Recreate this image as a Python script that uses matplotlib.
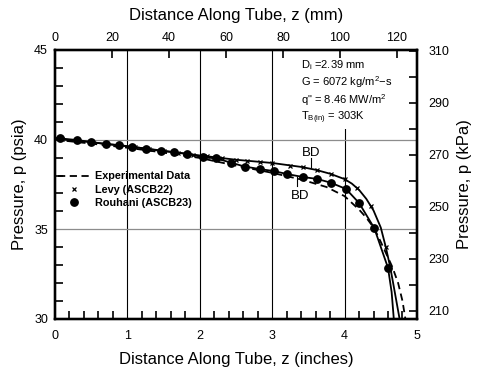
import numpy as np
import matplotlib
matplotlib.use("Agg")
import matplotlib.pyplot as plt
from matplotlib.ticker import MultipleLocator
from matplotlib.lines import Line2D

plt.rcParams['font.family'] = ['Liberation Sans', 'DejaVu Sans']
plt.rcParams['mathtext.fontset'] = 'custom'
plt.rcParams['mathtext.rm'] = 'Liberation Sans'
plt.rcParams['mathtext.it'] = 'Liberation Sans'

PSI_TO_KPA = 6.894757
IN_TO_MM = 25.4

# experimental pressure profile (inches, psia)
exp_z = [0.0, 0.5, 1.0, 1.5, 2.0, 2.5, 3.0, 3.4, 3.75, 4.0, 4.2, 4.3, 4.41,
         4.5, 4.58, 4.66, 4.74, 4.8, 4.84]
exp_p = [40.0, 39.78, 39.55, 39.28, 38.98, 38.55, 38.15, 37.78, 37.36, 36.85,
         36.1, 35.65, 35.05, 34.3, 33.6, 32.9, 32.0, 31.0, 30.0]

# Levy model (ASCB22)
levy_z = [0.0, 0.5, 1.0, 1.5, 2.0, 2.5, 3.0, 3.4, 3.6, 3.8, 4.0, 4.1, 4.2,
          4.3, 4.4, 4.5, 4.57, 4.63, 4.68, 4.72, 4.76]
levy_p = [40.05, 39.86, 39.63, 39.38, 39.12, 38.88, 38.7, 38.48, 38.32, 38.1,
          37.8, 37.55, 37.2, 36.7, 36.05, 35.1, 34.0, 32.9, 31.8, 30.9, 30.0]
levy_mz = [0.1, 0.3, 0.5, 0.7, 0.9, 1.1, 1.3, 1.5, 1.7, 1.9, 2.1, 2.3, 2.5,
           2.65, 2.83, 3.0, 3.24, 3.43, 3.62, 3.81, 4.0, 4.17, 4.37, 4.57]
levy_mp = [40.03, 39.95, 39.86, 39.77, 39.68, 39.58, 39.49, 39.38, 39.28,
           39.17, 39.07, 38.97, 38.88, 38.82, 38.75, 38.7, 38.55, 38.47, 38.3,
           38.1, 37.8, 37.3, 36.3, 34.0]

# Rouhani model (ASCB23)
rou_z = [0.0, 0.07, 0.3, 0.5, 0.7, 0.88, 1.07, 1.26, 1.46, 1.64, 1.83, 2.04,
         2.23, 2.43, 2.62, 2.83, 3.02, 3.21, 3.42, 3.62, 3.81, 4.02, 4.2,
         4.41, 4.6, 4.65, 4.68]
rou_p = [40.1, 40.07, 39.98, 39.87, 39.75, 39.7, 39.6, 39.5, 39.37, 39.3,
         39.2, 39.03, 38.95, 38.72, 38.5, 38.36, 38.25, 38.08, 37.92, 37.81,
         37.6, 37.25, 36.47, 35.07, 32.85, 31.5, 30.0]
rou_mz = rou_z[1:-2]
rou_mp = rou_p[1:-2]

fig = plt.figure(figsize=(4.79, 3.72), dpi=100)
ax = fig.add_axes([0.1148, 0.1425, 0.7557, 0.7231])

ax.set_xlim(0, 5)
ax.set_ylim(30, 45)

for z in [1, 2, 3, 4]:
    ax.axvline(z, color='black', lw=0.8, zorder=1)
for p in [35, 40]:
    ax.axhline(p, color='0.55', lw=0.9, zorder=1)

ax.plot(exp_z, exp_p, color='black', lw=1.3, ls=(0, (4, 2.5)), zorder=3)
ax.plot(levy_z, levy_p, color='black', lw=1.3, zorder=3)
ax.plot(levy_mz, levy_mp, ls='none', marker='x', ms=3, mew=0.9,
        color='black', zorder=4)
ax.plot(rou_z, rou_p, color='black', lw=1.3, zorder=3)
ax.plot(rou_mz, rou_mp, ls='none', marker='o', ms=5.3, color='black', zorder=4)

# burnout (BD) markers
ax.plot([3.53, 3.53], [38.98, 38.47], color='black', lw=0.8)
ax.text(3.54, 39.28, 'BD', ha='center', va='center', fontsize=9.5)
ax.plot([3.34, 3.34], [37.92, 37.4], color='black', lw=0.8)
ax.text(3.38, 36.85, 'BD', ha='center', va='center', fontsize=9.5)

# test conditions
ax.fill_between([3.3, 4.98], 40.6, 44.95, color='white', zorder=2, lw=0)
cond = [r'D$_{\rm i}$ =2.39 mm', r'G = 6072 kg/m$^2$$-$s',
        r'q" = 8.46 MW/m$^2$', r'T$_{\rm B(in)}$ = 303K']
for i, s in enumerate(cond):
    ax.text(3.40, 44.18 - 0.99 * i, s, fontsize=8, va='center', zorder=5)

handles = [Line2D([], [], color='black', lw=1.3, ls=(0, (4, 2.5))),
           Line2D([], [], ls='none', marker='x', ms=3, mew=0.9, color='black'),
           Line2D([], [], ls='none', marker='o', ms=5.3, color='black')]
labels = ['Experimental Data', 'Levy (ASCB22)', 'Rouhani (ASCB23)']
leg = ax.legend(handles, labels, loc='upper left', bbox_to_anchor=(-0.005, 0.565),
                frameon=False, fontsize=7.8, handlelength=3.0, handletextpad=0.5,
                labelspacing=0.3, borderaxespad=0)
for t in leg.get_texts():
    t.set_fontweight('bold')

ax.xaxis.set_major_locator(MultipleLocator(1))
ax.xaxis.set_minor_locator(MultipleLocator(0.2))
ax.yaxis.set_major_locator(MultipleLocator(5))
ax.yaxis.set_minor_locator(MultipleLocator(1))
ax.tick_params(which='both', direction='in', labelsize=9, width=1.2)
ax.tick_params(which='major', length=0)
ax.tick_params(which='minor', length=6)
ax.tick_params(axis='x', top=False, pad=8)
ax.tick_params(axis='y', right=False, pad=5)
for s in ax.spines.values():
    s.set_linewidth(1.6)

ax.set_xlabel('Distance Along Tube, z (inches)', fontsize=12, labelpad=7)
ax.set_ylabel('Pressure, p (psia)', fontsize=12, labelpad=5)

# metric scales on the opposite sides
axr = ax.twinx()
axr.set_ylim(30 * PSI_TO_KPA, 45 * PSI_TO_KPA)
axr.set_yticks(np.arange(210, 311, 20))
axr.yaxis.set_minor_locator(MultipleLocator(10))
axr.tick_params(which='both', direction='in', labelsize=9, width=1.2, pad=8)
axr.tick_params(which='major', length=6)
axr.tick_params(which='minor', length=6)
axr.set_ylabel('Pressure, p (kPa)', fontsize=12, labelpad=6)

axt = ax.twiny()
axt.set_xlim(0, 5 * IN_TO_MM)
axt.set_xticks(np.arange(0, 121, 20))
axt.tick_params(direction='in', labelsize=9, width=1.2, length=6, pad=4)
axt.set_xlabel('Distance Along Tube, z (mm)', fontsize=12, labelpad=9)
for a in (axr, axt):
    for s in a.spines.values():
        s.set_linewidth(1.6)

fig.savefig('out.png', dpi=100)
